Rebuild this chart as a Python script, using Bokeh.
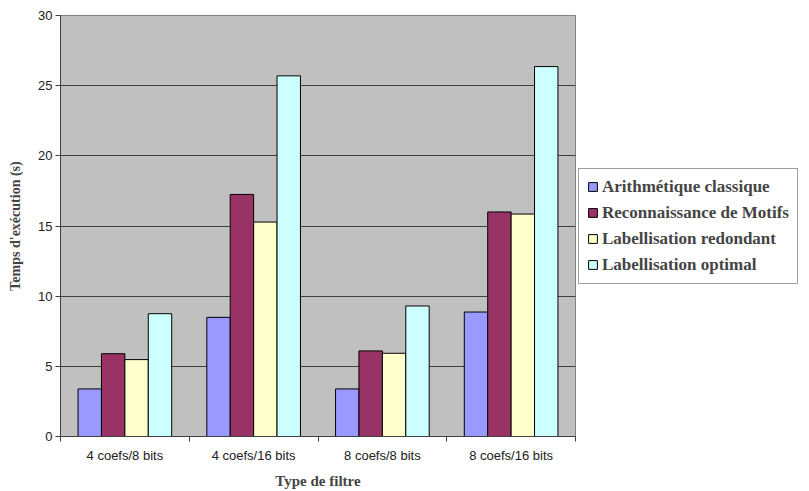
from bokeh.plotting import figure
from bokeh.models import FixedTicker, Legend, LegendItem, Range1d, ColumnDataSource
from bokeh.embed import file_html
from bokeh.resources import INLINE

categories = ["4 coefs/8 bits", "4 coefs/16 bits", "8 coefs/8 bits", "8 coefs/16 bits"]
series_names = ["Arithmétique classique", "Reconnaissance de Motifs",
                "Labellisation redondant", "Labellisation optimal"]
arithmetique = [3.39, 8.49, 3.39, 8.87]
motifs = [5.9, 17.25, 6.1, 16.0]
redondant = [5.48, 15.28, 5.93, 15.85]
optimal = [8.75, 25.7, 9.3, 26.36]
y_ticks = [0, 5, 10, 15, 20, 25, 30]

colors = ["#9999FF", "#993366", "#FFFFCC", "#CCFFFF"]
series_values = [arithmetique, motifs, redondant, optimal]

n = len(categories)
bar_w = 1.0 / 5.5
offsets = [(-1.5 + k) * bar_w for k in range(4)]

p = figure(output_backend="svg", toolbar_location=None,
           frame_width=515, frame_height=421,
           x_range=Range1d(0, n), y_range=Range1d(0, 30),
           min_border_left=60, min_border_top=15, min_border_bottom=55,
           min_border_right=234)
p.background_fill_color = "#C0C0C0"
p.border_fill_color = "white"
p.outline_line_color = "#808080"

items = []
for k in range(4):
    src = ColumnDataSource(dict(x=[i + 0.5 + offsets[k] for i in range(n)],
                                top=series_values[k]))
    r = p.vbar(x="x", top="top", bottom=0, width=bar_w, source=src,
               fill_color=colors[k], line_color="black", line_width=1)
    items.append(LegendItem(label=series_names[k], renderers=[r]))

# x axis
xa = p.xaxis[0]
xa.ticker = FixedTicker(ticks=[i + 0.5 for i in range(n)], minor_ticks=list(range(n + 1)))
xa.major_label_overrides = {i + 0.5: c for i, c in enumerate(categories)}
xa.major_tick_out = 0
xa.major_tick_in = 0
xa.minor_tick_out = 5
xa.minor_tick_in = 0
xa.minor_tick_line_color = "#404040"
xa.axis_line_color = "#404040"
xa.major_label_text_font = "Liberation Sans"
xa.major_label_text_font_size = "13px"
xa.major_label_text_color = "#202020"
xa.major_label_standoff = 6
xa.axis_label = "Type de filtre"
xa.axis_label_text_font = "Liberation Serif"
xa.axis_label_text_font_style = "bold"
xa.axis_label_text_font_size = "15px"
xa.axis_label_standoff = 7

# y axis
ya = p.yaxis[0]
ya.ticker = FixedTicker(ticks=y_ticks)
ya.major_tick_out = 5
ya.major_tick_in = 0
ya.minor_tick_out = 0
ya.minor_tick_in = 0
ya.major_tick_line_color = "#404040"
ya.axis_line_color = "#404040"
ya.major_label_text_font = "Liberation Sans"
ya.major_label_text_font_size = "13px"
ya.major_label_text_color = "#202020"
ya.major_label_standoff = 3
ya.axis_label = "Temps d'exécution (s)"
ya.axis_label_text_font = "Liberation Serif"
ya.axis_label_text_font_style = "bold"
ya.axis_label_text_font_size = "14px"
ya.axis_label_standoff = 12

p.xgrid.grid_line_color = None
p.ygrid.grid_line_color = "#404040"
p.ygrid.grid_line_width = 1
p.ygrid.ticker = FixedTicker(ticks=y_ticks)

legend = Legend(items=items, location="center_left",
                label_text_font="Liberation Serif", label_text_font_style="bold",
                label_text_font_size="17px", glyph_width=11, glyph_height=11,
                label_standoff=4, label_height=20, spacing=6, padding=8,
                margin=3, border_line_color="#404040", border_line_width=1,
                background_fill_color="white", background_fill_alpha=1.0)
p.add_layout(legend, "right")

open("out.html", "w").write(file_html(p, INLINE))
